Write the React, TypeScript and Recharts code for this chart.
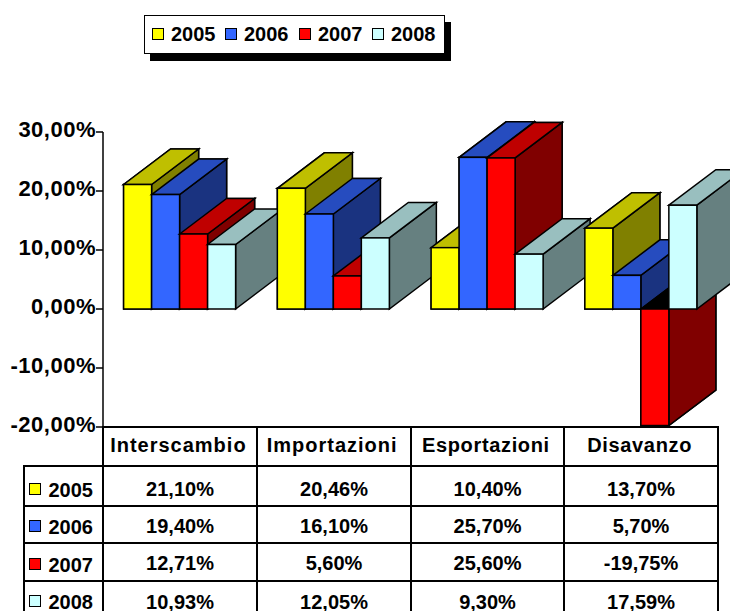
import React from "react";
import { BarChart, Bar, XAxis, YAxis, Legend } from "recharts";

const categories = ["Interscambio", "Importazioni", "Esportazioni", "Disavanzo"];
const values2005 = [21.1, 20.46, 10.4, 13.7];
const values2006 = [19.4, 16.1, 25.7, 5.7];
const values2007 = [12.71, 5.6, 25.6, -19.75];
const values2008 = [10.93, 12.05, 9.3, 17.59];
const seriesNames = ["2005", "2006", "2007", "2008"];
const seriesValues = [values2005, values2006, values2007, values2008];
const frontColors = ["#FFFF00", "#3366FF", "#FF0000", "#CCFFFF"];
const topColors = ["#BFBF00", "#264CBF", "#BF0000", "#99BFBF"];
const sideColors = ["#808000", "#1A3380", "#800000", "#668080"];
const yTicks = [-20, -10, 0, 10, 20, 30];
const headerSpacing = [1, 1, 0.65, 0.65];

const data = categories.map((name, i) => {
  const row: Record<string, any> = { name };
  seriesNames.forEach((s, k) => (row[s] = seriesValues[k][i]));
  return row;
});

const FONT = '"Liberation Sans", Arial, sans-serif';
const DX = 47;
const DY = -35.5;
const STROKE = 1.5;
const fmt = (v: number) => v.toFixed(2).replace(".", ",") + "%";

const makeShape = (k: number) => (p: any) => {
  const { x, y, width, height, index, payload } = p;
  const top = Math.min(y, y + height);
  const bottom = Math.max(y, y + height);
  const neg = payload[seriesNames[k]] < 0;
  const w = width;
  const h = bottom - top;
  const common = { stroke: "#000", strokeWidth: STROKE, strokeLinejoin: "miter" as const };
  const body = (
    <g id={`b-${k}-${index}`}>
      <polygon
        {...common}
        fill={sideColors[k]}
        points={`${x + w},${top} ${x + w + DX},${top + DY} ${x + w + DX},${bottom + DY} ${x + w},${bottom}`}
      />
      <polygon
        {...common}
        fill={neg ? "#000" : topColors[k]}
        points={`${x},${top} ${x + DX},${top + DY} ${x + w + DX},${top + DY} ${x + w},${top}`}
      />
      <rect {...common} x={x} y={top} width={w} height={h} fill={frontColors[k]} />
    </g>
  );
  if (k === seriesNames.length - 1) {
    // each group must paint over the depth of the group on its left
    return (
      <g>
        {seriesNames.slice(0, k).map((_, j) => (
          <use key={j} href={`#b-${j}-${index}`} />
        ))}
        {body}
      </g>
    );
  }
  return body;
};

const YTick = (p: any) => (
  <text x={p.x} y={p.y + 5} textAnchor="end" fontFamily={FONT} fontWeight={700} fontSize={22} letterSpacing={0.5} fill="#000">
    {fmt(p.payload.value)}
  </text>
);

const XTick = (p: any) => (
  <text
    x={p.x - 1.5}
    y={426 + 26}
    textAnchor="middle"
    fontFamily={FONT}
    fontWeight={700}
    fontSize={20}
    letterSpacing={headerSpacing[p.index]}
    fill="#000"
  >
    {p.payload.value}
  </text>
);

const Swatch = ({ color, x, y }: { color: string; x: number; y: number }) => (
  <div
    style={{
      position: "absolute",
      left: x,
      top: y,
      width: 12,
      height: 12,
      boxSizing: "border-box",
      background: color,
      border: "1.5px solid #000",
    }}
  />
);

const LEGEND_SWATCH_X = [7, 80, 154, 227];

const LegendBox = (props: any) => (
  <div
    style={{
      position: "relative",
      width: 301,
      height: 39,
      boxSizing: "border-box",
      background: "#fff",
      border: "1.5px solid #000",
      boxShadow: "6px 7px 0 #000",
      fontFamily: FONT,
      fontWeight: 700,
      fontSize: 20,
    }}
  >
    {(props.payload || []).map((e: any, i: number) => (
      <React.Fragment key={e.value}>
        <Swatch color={e.color} x={LEGEND_SWATCH_X[i]} y={11.5} />
        <span style={{ position: "absolute", left: LEGEND_SWATCH_X[i] + 19.5, top: 7, lineHeight: "23px" }}>{e.value}</span>
      </React.Fragment>
    ))}
  </div>
);

const colLines = [103, 257, 411, 564, 718];
const rowLines = [466, 506, 543, 581];
const valueCenters = [489, 526, 563, 601.5];
const labelCenters = [490, 527, 565, 601.5];

const Line = ({ x, y, w, h }: { x: number; y: number; w: number; h: number }) => (
  <div style={{ position: "absolute", left: x, top: y, width: w, height: h, background: "#000" }} />
);

const Cell = ({ x, w, cy, children }: any) => (
  <div
    style={{
      position: "absolute",
      left: x,
      width: w,
      top: cy - 9,
      height: 18,
      lineHeight: "18px",
      textAlign: "center",
      fontFamily: FONT,
      fontWeight: 700,
      fontSize: 20,
      color: "#000",
      whiteSpace: "nowrap",
    }}
  >
    {children}
  </div>
);

export default function App() {
  return (
    <div
      style={{
        position: "absolute",
        left: 0,
        top: 0,
        width: 730,
        height: 611,
        overflow: "hidden",
        background: "#fff",
      }}
    >
      <BarChart
        width={730}
        height={611}
        data={data}
        margin={{ top: 132, right: 12, bottom: 0, left: 0 }}
        barCategoryGap="13.4%"
        barGap={0}
      >
        <XAxis
          dataKey="name"
          height={145}
          tickLine={false}
          axisLine={{ stroke: "#000", strokeWidth: 2 }}
          tick={XTick}
          interval={0}
        />
        <YAxis
          width={103}
          domain={[-20, 30]}
          ticks={yTicks}
          interval={0}
          tickSize={7}
          tickMargin={0}
          tick={YTick}
          axisLine={{ stroke: "#000", strokeWidth: 1.5 }}
          tickLine={{ stroke: "#000", strokeWidth: 1.5 }}
        />
        <Legend
          content={LegendBox}
          wrapperStyle={{ position: "absolute", left: 143.5, top: 15, width: 301, height: 39 }}
        />
        {seriesNames.map((s, k) => (
          <Bar key={s} dataKey={s} fill={frontColors[k]} isAnimationActive={false} shape={makeShape(k)} />
        ))}
      </BarChart>

      {colLines.map((x, i) => (
        <Line key={i} x={x - 1} y={426} w={2} h={185} />
      ))}
      <Line x={23} y={466} w={2} h={145} />
      {rowLines.map((y, i) => (
        <Line key={i} x={23} y={y - 1} w={696} h={2} />
      ))}

      {seriesNames.map((s, k) => (
        <React.Fragment key={s}>
          <Swatch color={frontColors[k]} x={29} y={labelCenters[k] - 7} />
          <div
            style={{
              position: "absolute",
              left: 48.5,
              top: labelCenters[k] - 9,
              lineHeight: "18px",
              fontFamily: FONT,
              fontWeight: 700,
              fontSize: 20,
            }}
          >
            {s}
          </div>
          {categories.map((c, i) => (
            <Cell key={c} x={colLines[i]} w={colLines[i + 1] - colLines[i]} cy={valueCenters[k]}>
              {fmt(seriesValues[k][i])}
            </Cell>
          ))}
        </React.Fragment>
      ))}
    </div>
  );
}
